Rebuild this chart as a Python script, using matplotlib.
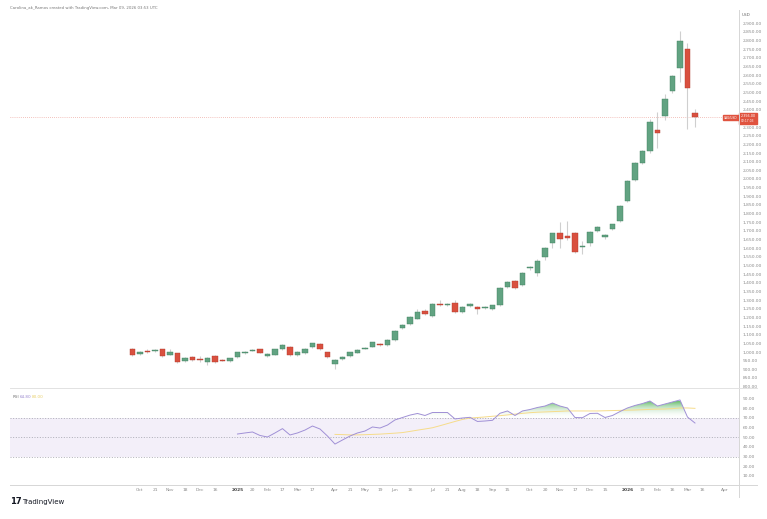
import matplotlib.pyplot as plt
import numpy as np
from matplotlib.patches import Rectangle
from matplotlib.path import Path
from matplotlib.colors import LinearSegmentedColormap

# weekly candles, first bar = week of Sep 30 2024
opens = [1017, 990, 1008, 1006, 1015, 984, 992, 950, 973, 961, 942, 979, 952, 948, 969, 996, 1008, 1015, 977, 983,
         1015, 1031, 981, 992, 1027, 1046, 998, 929, 958, 977, 996, 1019, 1031, 1048, 1039, 1069, 1137, 1162, 1192, 1235,
         1208, 1279, 1273, 1281, 1229, 1264, 1260, 1256, 1250, 1270, 1376, 1409, 1389, 1485, 1455, 1547, 1628, 1686, 1672, 1690,
         1607, 1632, 1699, 1666, 1709, 1759, 1870, 1995, 2095, 2160, 2283, 2366, 2510, 2640, 2750, 2380]
highs = [1022, 1006, 1015, 1020, 1020, 1015, 996, 972, 978, 978, 970, 982, 958, 966, 1002, 1006, 1018, 1020, 993, 1018,
         1044, 1035, 1004, 1021, 1054, 1050, 1002, 958, 978, 1002, 1016, 1029, 1060, 1054, 1078, 1127, 1164, 1208, 1248, 1248,
         1281, 1300, 1284, 1298, 1266, 1281, 1265, 1267, 1274, 1374, 1410, 1414, 1462, 1498, 1540, 1606, 1690, 1753, 1759, 1694,
         1642, 1700, 1728, 1682, 1742, 1852, 1996, 2098, 2168, 2345, 2389, 2491, 2604, 2857, 2784, 2405]
lows = [975, 985, 995, 1000, 970, 980, 938, 945, 950, 945, 925, 936, 946, 944, 965, 990, 1004, 992, 972, 980,
        1010, 978, 976, 988, 1022, 1010, 965, 902, 952, 972, 992, 1015, 1027, 1036, 1035, 1065, 1132, 1158, 1188, 1212,
        1204, 1268, 1266, 1228, 1224, 1259, 1220, 1250, 1245, 1266, 1370, 1365, 1384, 1474, 1440, 1530, 1604, 1599, 1648, 1575,
        1565, 1610, 1694, 1656, 1704, 1754, 1866, 1990, 2085, 2150, 2180, 2341, 2498, 2562, 2289, 2300]
closes = [981, 1002, 1000, 1012, 975, 1002, 944, 967, 954, 955, 967, 940, 950, 963, 998, 1002, 1012, 996, 988, 1015,
          1039, 983, 998, 1017, 1050, 1015, 973, 954, 973, 998, 1012, 1025, 1056, 1040, 1069, 1123, 1158, 1204, 1231, 1218,
          1277, 1273, 1277, 1233, 1262, 1276, 1247, 1262, 1270, 1370, 1405, 1372, 1457, 1489, 1526, 1601, 1686, 1651, 1661, 1580,
          1615, 1695, 1721, 1676, 1738, 1846, 1990, 2090, 2160, 2330, 2264, 2460, 2597, 2799, 2528, 2356]

# RSI(14) from bar 14, its moving average from bar 27
rsi_start = 14
rsi = [53.4, 54.5, 55.5, 51.9, 50.3, 54.5, 59.0, 52.4, 54.5, 57.5, 61.7, 58.6, 51.3, 43.0, 47.2, 51.3, 54.5, 56.5, 60.7, 59.6,
       62.7, 68.0, 70.5, 73.0, 74.7, 72.6, 75.7, 75.7, 75.7, 69.0, 70.0, 70.7, 66.4, 66.9, 67.6, 74.9, 77.3, 72.6, 77.3, 78.8,
       80.9, 82.4, 85.5, 82.4, 80.4, 70.5, 70.3, 74.7, 74.9, 70.5, 72.6, 76.7, 80.4, 83.0, 85.0, 87.6, 82.4, 84.5, 86.6, 88.7,
       71.0, 64.8]
ma_start = 27
rsi_ma = [53.0, 52.8, 52.5, 52.5, 52.7, 53.0, 53.3, 53.8, 54.3, 54.9, 56.1, 57.4, 58.6, 59.9, 62.0, 64.2, 66.4, 68.5, 69.9, 70.5,
          71.1, 71.8, 72.4, 73.2, 74.0, 74.8, 75.5, 76.0, 76.3, 76.6, 76.9, 77.3, 77.3, 77.3, 77.3, 77.3, 77.5, 77.7, 77.9, 78.1,
          78.3, 78.6, 78.9, 79.2, 79.3, 79.7, 80.4, 80.4, 80.0]

tick_pos = [1, 3, 5, 7, 9, 11, 14, 16, 18, 20, 22, 24, 27, 29, 31, 33, 35, 37, 40, 42, 44, 46, 48, 50,
            53, 55, 57, 59, 61, 63, 66, 68, 70, 72, 74, 76, 79]
tick_labels = ['Oct', '21', 'Nov', '18', 'Dec', '16', '2025', '20', 'Feb', '17', 'Mar', '17', 'Apr', '21', 'May', '19',
               'Jun', '16', 'Jul', '21', 'Aug', '18', 'Sep', '15', 'Oct', '20', 'Nov', '17', 'Dec', '15', '2026', '19',
               'Feb', '16', 'Mar', '16', 'Apr']

W, H = 767, 519
fig = plt.figure(figsize=(W / 100, H / 100), dpi=100)
fig.patch.set_facecolor('white')


def px_axes(x0, y0, x1, y1):
    return fig.add_axes([x0 / W, 1 - y1 / H, (x1 - x0) / W, (y1 - y0) / H])


up, down, wick = '#62a382', '#d9503f', '#cfcfcf'
lab = '#8a8a8a'

# price pane
ax = px_axes(10, 12, 739, 387)
for i, (o, h, l, c) in enumerate(zip(opens, highs, lows, closes)):
    col = up if c >= o else down
    edge = '#3f7f5f' if c >= o else '#b03a2c'
    ax.vlines(i, l, h, color=wick, lw=0.8, zorder=1)
    ax.add_patch(Rectangle((i - 0.36, min(o, c)), 0.72, max(abs(c - o), 2.5),
                           facecolor=col, edgecolor=edge, lw=0.3, zorder=2))
ax.axhline(closes[-1], color='#e88a80', lw=0.5, ls=(0, (1, 2)), zorder=0)
ax.set_xlim(-16.33, 80.87)
ax.set_ylim(797.7, 2965.3)
ax.yaxis.tick_right()
pticks = np.arange(800, 2901, 50)
ax.set_yticks(pticks)
# the last-price tag covers the label nearest to it
ax.set_yticklabels(['' if abs(v - closes[-1]) < 25 else '{:,.2f}'.format(v) for v in pticks])
ax.tick_params(axis='y', length=0, pad=2.5, labelsize=3.2, labelcolor=lab)
ax.set_xticks([])
for s in ax.spines.values():
    s.set_visible(False)

# RSI pane
ax2 = px_axes(10, 389, 739, 485)
xr = np.arange(rsi_start, rsi_start + len(rsi))
xm = np.arange(ma_start, ma_start + len(rsi_ma))
r = np.array(rsi)
ax2.axhspan(30, 70, color='#7E57C2', alpha=0.09, lw=0)
for lvl in (70, 50, 30):
    ax2.axhline(lvl, color='#a3a3ad', lw=0.6, ls=(0, (1.2, 2)))
fb = ax2.fill_between(xr, r, 70, where=r > 70, interpolate=True, color='none', lw=0)
paths = fb.get_paths()
grad = np.linspace(0, 1, 256).reshape(-1, 1)
cmap = LinearSegmentedColormap.from_list('g', [(1, 1, 1, 0), (0.40, 0.74, 0.42, 1.0)])
img = ax2.imshow(grad, extent=[xr[0], xr[-1], 70, 87], origin='lower', aspect='auto', cmap=cmap, zorder=1)
if paths:
    img.set_clip_path(Path.make_compound_path(*paths), transform=ax2.transData)
ax2.plot(xm, rsi_ma, color='#f6dc8a', lw=0.7, zorder=3)
ax2.plot(xr, r, color='#a090d6', lw=0.7, zorder=4)
ax2.set_xlim(-16.33, 80.87)
ax2.set_ylim(0.57, 100.05)
ax2.yaxis.tick_right()
ax2.set_yticks(np.arange(10, 91, 10))
ax2.set_yticklabels(['{:.2f}'.format(v) for v in np.arange(10, 91, 10)])
ax2.tick_params(axis='y', length=0, pad=2.5, labelsize=3.2, labelcolor=lab)
ax2.set_xticks(tick_pos)
ax2.set_xticklabels(tick_labels)
ax2.tick_params(axis='x', length=0, pad=2.5, labelsize=3.2, labelcolor=lab)
for t in ax2.get_xticklabels():
    if t.get_text() in ('2025', '2026'):
        t.set_color('#444444')
        t.set_fontweight('bold')
for s in ax2.spines.values():
    s.set_visible(False)
ax2.text(0.004, 0.94, 'RSI', transform=ax2.transAxes, fontsize=3, color='#777777', va='top')
ax2.text(0.014, 0.94, '{:.2f}'.format(rsi[-1]), transform=ax2.transAxes, fontsize=3, color='#9c8ad0', va='top')
ax2.text(0.030, 0.94, '{:.2f}'.format(rsi_ma[-1]), transform=ax2.transAxes, fontsize=3, color='#e8cf6a', va='top')

# overlay in pixel coordinates for separators, labels and branding
ov = fig.add_axes([0, 0, 1, 1], zorder=10)
ov.set_xlim(0, W)
ov.set_ylim(H, 0)
ov.axis('off')
ov.patch.set_alpha(0)
ov.plot([739, 739], [10, 497], color='#d6d6d6', lw=0.7)
ov.plot([10, 757], [388, 388], color='#e2e2e2', lw=0.7)
ov.plot([10, 757], [485, 485], color='#d6d6d6', lw=0.7)
ov.text(742, 15.5, 'USD', fontsize=3, color='#666666', va='center')
ov.add_patch(Rectangle((723, 115), 15.5, 5, color='#e0533f'))
ov.text(730.7, 117.6, 'XAG/USD', fontsize=2.2, color='white', ha='center', va='center')
ov.add_patch(Rectangle((739, 113), 18, 10.5, color='#e0533f'))
ov.text(740.5, 115.7, '{:,.2f}'.format(closes[-1]), fontsize=2.4, color='white', va='center')
ov.text(740.5, 120.8, '02:17:03', fontsize=2.2, color='white', va='center')
ov.text(10, 8, 'Carolina_ak_Ramos created with TradingView.com, Mar 09, 2026 03:53 UTC',
        fontsize=2.8, color='#777777', va='center')
ov.text(10, 502, '17', fontsize=6, fontweight='heavy', color='#131722', va='center')
ov.text(22, 502, 'TradingView', fontsize=5, color='#131722', va='center')

fig.savefig('out.png', dpi=100)
